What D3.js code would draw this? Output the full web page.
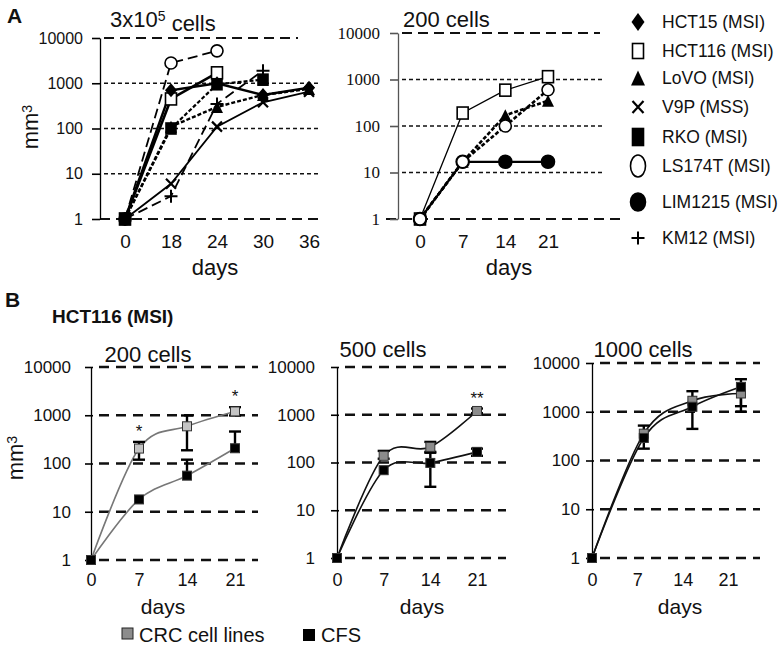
<!DOCTYPE html>
<html>
<head>
<meta charset="utf-8">
<script src="https://cdn.jsdelivr.net/npm/d3@7"></script>
<style>
    body { margin: 0; background: #fff; }
    text { font-family: "Liberation Sans", Arial, Helvetica, sans-serif; fill: #111; }
</style>
</head>
<body>
<svg id="chart" width="781" height="654"></svg>
<script>
// ---- Panel A, 3x10^5 cells (category axis) ----
const daysA1   = ["0", "18", "24", "30", "36"];
const hct15A1  = [1, 700, 1000, 550, 800];
const hct116A1 = [1, 450, 1700];
const lovoA1   = [1, 110, 300, 550, 750];
const v9pA1    = [1, 6, 110, 380, 650];
const rkoA1    = [1, 100, 950, 1200];
const ls174tA1 = [1, 2800, 5200];
const km12A1   = [1, 3.2, 350, 1900];

// ---- Panel A, 200 cells ----
const daysA2    = ["0", "7", "14", "21"];
const hct116A2  = [1, 190, 590, 1150];
const ls174tA2  = [1, 17, 100, 600];
const lovoA2    = [1, 17, 170, 350];
const lim1215A2 = [1, 17, 17, 17];

// ---- Panel B, HCT116 (MSI) ----
const daysB     = [0, 7, 14, 21];
const daysB1000 = [0, 8, 15.5, 23];
const dayTicksB = [0, 7, 14, 21];

const crc200   = [1, 204, 590, 1200];
const crc200Lo = [1, 120, 188, 990];
const crc200Hi = [1, 280, 990, 1470];
const cfs200   = [1, 18, 56, 207];
const cfs200Lo = [1, 18, 56, 207];
const cfs200Hi = [1, 18, 120, 460];

const crc500   = [1, 138, 212, 1200];
const crc500Lo = [1, 120, 167, 1080];
const crc500Hi = [1, 175, 270, 1350];
const cfs500   = [1, 69, 98, 167];
const cfs500Lo = [1, 69, 31, 138];
const cfs500Hi = [1, 69, 160, 195];

const crc1000   = [1, 355, 1680, 2370];
const crc1000Lo = [1, 355, 1680, 1000];
const crc1000Hi = [1, 520, 2640, 2370];
const cfs1000   = [1, 290, 1265, 3240];
const cfs1000Lo = [1, 175, 445, 1300];
const cfs1000Hi = [1, 290, 1265, 4650];

const decades = [1, 10, 100, 1000, 10000];

const legendNames = ["HCT15 (MSI)", "HCT116 (MSI)", "LoVO (MSI)", "V9P (MSS)",
                     "RKO (MSI)", "LS174T (MSI)", "LIM1215 (MSI)", "KM12 (MSI)"];
const legendShapes = ["diamond", "squareOpen", "triangle", "cross",
                      "squareFilled", "circleOpen", "circleFilled", "plus"];

const svg = d3.select("#chart");

/**
 * Draws one marker shape centred on cx/cy.
 */
function marker(g, type, cx, cy, w, h)
{
    const hw = w / 2, hh = h / 2;

    switch (type) {
        case "diamond":
            g.append("path").attr("d", `M${cx},${cy - hh}L${cx + hw},${cy}L${cx},${cy + hh}L${cx - hw},${cy}Z`)
                .attr("fill", "#000");
            break;
        case "triangle":
            g.append("path").attr("d", `M${cx},${cy - hh}L${cx + hw},${cy + hh}L${cx - hw},${cy + hh}Z`)
                .attr("fill", "#000");
            break;
        case "squareOpen":
        case "squareFilled":
            g.append("rect").attr("x", cx - hw).attr("y", cy - hh).attr("width", w).attr("height", h)
                .attr("fill", type === "squareOpen" ? "#fff" : "#000")
                .attr("stroke", "#000").attr("stroke-width", 1.6);
            break;
        case "circleOpen":
        case "circleFilled":
            g.append("ellipse").attr("cx", cx).attr("cy", cy).attr("rx", hw).attr("ry", hh)
                .attr("fill", type === "circleOpen" ? "#fff" : "#000")
                .attr("stroke", "#000").attr("stroke-width", 1.6);
            break;
        case "cross":
            g.append("path").attr("d", `M${cx - hw},${cy - hh}L${cx + hw},${cy + hh}M${cx + hw},${cy - hh}L${cx - hw},${cy + hh}`)
                .attr("stroke", "#000").attr("stroke-width", 2.2);
            break;
        case "plus":
            g.append("path").attr("d", `M${cx - hw},${cy}L${cx + hw},${cy}M${cx},${cy - hh}L${cx},${cy + hh}`)
                .attr("stroke", "#000").attr("stroke-width", 2);
            break;
    }
}

/**
 * Vertical log axis with labels on the left.
 */
function yAxis(g, y, x, opt)
{
    const a = g.append("g")
        .attr("transform", `translate(${x},0)`)
        .call(d3.axisLeft(y).tickValues(decades).tickFormat(d3.format("d"))
            .tickSizeInner(opt.tick).tickSizeOuter(0).tickPadding(opt.pad));

    a.attr("font-family", null).attr("font-size", null);
    a.select(".domain").attr("stroke", opt.color).attr("stroke-width", opt.width || 1.3);
    a.selectAll(".tick line").attr("stroke", opt.color).attr("stroke-width", 1.6)
        .attr("x2", -opt.tick).attr("x1", opt.cross || 0);
    a.selectAll(".tick text")
        .style("font-family", opt.font || null)
        .style("font-size", opt.size + "px")
        .attr("fill", "#111");
}

/**
 * Tick labels only for the horizontal axis.
 */
function xLabels(g, x, ticks, baseline, size)
{
    const a = g.append("g")
        .attr("transform", `translate(0,${baseline})`)
        .call(d3.axisBottom(x).tickValues(ticks).tickSize(0).tickPadding(0).tickFormat(d => d));

    a.attr("font-family", null).attr("font-size", null);
    a.select(".domain").remove();
    a.selectAll(".tick text").attr("dy", null).attr("y", 0)
        .style("font-size", size + "px").attr("fill", "#111");
}

function gridLine(g, y, v, x0, x1, dash, width)
{
    g.append("line")
        .attr("x1", x0).attr("x2", x1)
        .attr("y1", y(v)).attr("y2", y(v))
        .attr("stroke", "#111").attr("stroke-width", width)
        .attr("stroke-dasharray", dash);
}

function yLabel(g, x, y, size)
{
    const t = g.append("text")
        .attr("transform", `translate(${x},${y}) rotate(-90)`)
        .attr("text-anchor", "middle")
        .style("font-size", size + "px");
    t.append("tspan").text("mm");
    t.append("tspan").attr("dy", "-0.45em").style("font-size", (size * 0.65) + "px").text("3");
}

function label(g, text, x, y, size, anchor, weight)
{
    return g.append("text")
        .attr("x", x).attr("y", y)
        .attr("text-anchor", anchor || "start")
        .style("font-size", size + "px")
        .style("font-weight", weight || "normal")
        .text(text);
}

// ============ Panel A ============
const gA = svg.append("g");

label(gA, "A", 7, 23, 21, "start", "bold");

// --- 3x10^5 cells ---
const xA1 = d3.scalePoint().domain(daysA1).range([125, 309]);
const yA1 = d3.scaleLog().domain([1, 10000]).range([219, 38]);

gridLine(gA, yA1, 10000, 104, 298, "10,6", 2.2);
[10, 100, 1000].forEach(v => gridLine(gA, yA1, v, 104, 320, "4,3", 1.3));
gridLine(gA, yA1, 1, 100, 322, "10,6", 2.2);

yAxis(gA, yA1, 100, {tick: 8, pad: 9, color: "#000", size: 16});
xLabels(gA, xA1, daysA1, 248, 19);
yLabel(gA, 38, 127, 22);

const tA1 = label(gA, "3x10", 110, 27, 22);
tA1.append("tspan").attr("dy", "-0.45em").style("font-size", "14px").text("5");
tA1.append("tspan").attr("dy", "0.45em").text(" cells");
label(gA, "days", 215, 275, 22, "middle");

const seriesA1 = [
    {values: hct116A1, shape: "squareOpen",   dash: null,   width: 2.6},
    {values: hct15A1,  shape: "diamond",      dash: null,   width: 2.4},
    {values: ls174tA1, shape: "circleOpen",   dash: "10,5", width: 1.8},
    {values: lovoA1,   shape: "triangle",     dash: "4,2",  width: 2.4},
    {values: rkoA1,    shape: "squareFilled", dash: "4,2",  width: 2.2},
    {values: v9pA1,    shape: "cross",        dash: null,   width: 1.8},
    {values: km12A1,   shape: "plus",         dash: "10,5", width: 1.8}
];

const markerSize = {
    diamond: [12, 14], squareOpen: [11, 12], triangle: [12, 12], cross: [10, 10],
    squareFilled: [10, 11], circleOpen: [12, 12], circleFilled: [13, 13], plus: [13, 13]
};

function drawSeriesA(g, x, y, days, list)
{
    list.forEach(s => {
        const pts = s.values.map((v, i) => [x(days[i]), y(v)]);
        g.append("path")
            .attr("d", d3.line()(pts))
            .attr("fill", "none")
            .attr("stroke", "#000")
            .attr("stroke-width", s.width)
            .attr("stroke-dasharray", s.dash);
    });
    list.forEach(s => {
        s.values.forEach((v, i) => {
            const [w, h] = markerSize[s.shape];
            marker(g, s.shape, x(days[i]), y(v), w, h);
        });
    });
}

drawSeriesA(gA, xA1, yA1, daysA1, seriesA1);

// --- 200 cells ---
const xA2 = d3.scalePoint().domain(daysA2).range([420, 548]);
const yA2 = d3.scaleLog().domain([1, 10000]).range([219, 33]);

gridLine(gA, yA2, 10000, 402, 600, "10,6", 2.2);
[10, 100, 1000].forEach(v => gridLine(gA, yA2, v, 402, 604, "4,3", 1.3));
gridLine(gA, yA2, 1, 386, 620, "10,6", 2.2);

yAxis(gA, yA2, 398, {tick: 8, pad: 10, color: "#555", size: 17, font: "'Liberation Serif', 'DejaVu Serif', serif"});
xLabels(gA, xA2, daysA2, 248, 19);
label(gA, "200 cells", 403, 27, 22);
label(gA, "days", 509, 275, 22, "middle");

drawSeriesA(gA, xA2, yA2, daysA2, [
    {values: hct116A2,  shape: "squareOpen",   dash: null,  width: 1.3},
    {values: lim1215A2, shape: "circleFilled", dash: null,  width: 2.2},
    {values: lovoA2,    shape: "triangle",     dash: "4,2", width: 2.6},
    {values: ls174tA2,  shape: "circleOpen",   dash: "4,2", width: 2.6}
]);

// --- legend ---
const legendY = [22, 51, 78, 107, 137, 166, 202, 238];
const legendSize = {
    diamond: [13, 18], squareOpen: [11, 15], triangle: [14, 15], cross: [11, 12],
    squareFilled: [11, 17], circleOpen: [15, 22], circleFilled: [15, 18], plus: [13, 13]
};

legendNames.forEach((name, i) => {
    const [w, h] = legendSize[legendShapes[i]];
    marker(gA, legendShapes[i], 638, legendY[i], w, h);
    label(gA, name, 662, legendY[i] + 6, 17.5);
});

// ============ Panel B ============
const gB = svg.append("g");

label(gB, "B", 5, 307, 21, "start", "bold");
label(gB, "HCT116 (MSI)", 52, 323, 19, "start", "bold");

function drawPanelB(p)
{
    const x = d3.scaleLinear().domain([0, 21]).range(p.xRange);
    const y = d3.scaleLog().domain([1, 10000]).range(p.yRange);

    decades.forEach(v => gridLine(gB, y, v, p.xRange[0] + 8, p.gridEnd, "10,7", 2.5));
    yAxis(gB, y, p.xRange[0], {tick: 6, pad: p.pad, color: "#000", size: 17, cross: 2});
    xLabels(gB, x, dayTicksB, 586, 18);

    label(gB, p.title, p.titleX, p.titleY, 22, "middle");
    label(gB, "days", p.daysX, 614, 21, "middle");

    const line = d3.line().curve(d3.curveCatmullRom.alpha(0))
        .x((d, i) => x(p.days[i])).y(d => y(d));

    [p.crc, p.cfs].forEach(s => {
        gB.append("path").attr("d", line(s))
            .attr("fill", "none").attr("stroke", p.lineColor).attr("stroke-width", 1.6);
    });

    // error bars, then markers on top
    [[p.crc, p.crcLo, p.crcHi], [p.cfs, p.cfsLo, p.cfsHi]].forEach(([m, lo, hi]) => {
        m.forEach((v, i) => {
            const cx = x(p.days[i]);
            [lo[i], hi[i]].forEach(e => {
                if (Math.abs(e - v) / v < 0.02) return;
                gB.append("line").attr("x1", cx).attr("x2", cx).attr("y1", y(v)).attr("y2", y(e))
                    .attr("stroke", "#000").attr("stroke-width", 2.4);
                gB.append("line").attr("x1", cx - 6).attr("x2", cx + 6).attr("y1", y(e)).attr("y2", y(e))
                    .attr("stroke", "#000").attr("stroke-width", 2.4);
            });
        });
    });

    [[p.crc, p.crcFill], [p.cfs, "#000"]].forEach(([m, fill]) => {
        m.forEach((v, i) => {
            gB.append("rect")
                .attr("x", x(p.days[i]) - 4.5).attr("y", y(v) - 4.5)
                .attr("width", 9).attr("height", 9)
                .attr("fill", fill).attr("stroke", "#333").attr("stroke-width", 1);
        });
    });

    p.stars.forEach(([i, s]) => {
        label(gB, s, x(p.days[i]), y(p.crcHi[i]) - 5, 17, "middle");
    });
}

drawPanelB({
    xRange: [91, 235], yRange: [560, 367], gridEnd: 258, pad: 14,
    title: "200 cells", titleX: 148, titleY: 362, daysX: 163,
    days: daysB, lineColor: "#777", crcFill: "#c4c4c4",
    crc: crc200, crcLo: crc200Lo, crcHi: crc200Hi,
    cfs: cfs200, cfsLo: cfs200Lo, cfsHi: cfs200Hi,
    stars: [[1, "*"], [3, "*"]]
});

drawPanelB({
    xRange: [337, 477], yRange: [558, 367], gridEnd: 506, pad: 16,
    title: "500 cells", titleX: 383, titleY: 357, daysX: 422,
    days: daysB, lineColor: "#111", crcFill: "#8c8c8c",
    crc: crc500, crcLo: crc500Lo, crcHi: crc500Hi,
    cfs: cfs500, cfsLo: cfs500Lo, cfsHi: cfs500Hi,
    stars: [[3, "**"]]
});

drawPanelB({
    xRange: [592, 728], yRange: [558, 363], gridEnd: 760, pad: 6,
    title: "1000 cells", titleX: 643, titleY: 357, daysX: 680,
    days: daysB1000, lineColor: "#111", crcFill: "#8c8c8c",
    crc: crc1000, crcLo: crc1000Lo, crcHi: crc1000Hi,
    cfs: cfs1000, cfsLo: cfs1000Lo, cfsHi: cfs1000Hi,
    stars: []
});

yLabel(gB, 23, 458, 22);

// --- legend B ---
gB.append("rect").attr("x", 122).attr("y", 628).attr("width", 11).attr("height", 11)
    .attr("fill", "#8c8c8c").attr("stroke", "#222").attr("stroke-width", 1);
label(gB, "CRC cell lines", 139, 642, 20);
gB.append("rect").attr("x", 303).attr("y", 629).attr("width", 12).attr("height", 12).attr("fill", "#000");
label(gB, "CFS", 321, 642, 20);
</script>
</body>
</html>
